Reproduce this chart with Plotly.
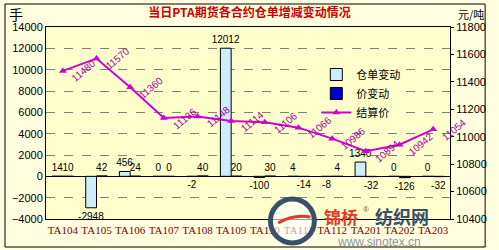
import plotly.graph_objects as go

contracts = ["TA104", "TA105", "TA106", "TA107", "TA108", "TA109",
             "TA110", "TA111", "TA112", "TA201", "TA202", "TA203"]
receipt_change = [14, -2948, 456, 0, -2, 12012, -100, 4, -8, 1340, 0, 0]
price_change = [10, 42, 24, 0, 40, 20, 30, -14, 4, -32, -126, -32]
settle_price = [11480, 11570, 11360, 11136, 11148, 11114, 11106, 11066,
                10986, 10894, 10942, 11054]

W, H = 499, 250
ML, MR, MT, MB = 45, 40, 27, 31
PW, PH = W - ML - MR, H - MT - MB


def px(x):
    return (x - ML) / PW


def py(y):
    return 1 - (y - MT) / PH


CJK = "Noto Sans CJK SC"
NUM = "Liberation Sans"
MAG = "#D000D0"

fig = go.Figure()
fig.add_trace(go.Bar(
    x=contracts, y=receipt_change, name="仓单变动",
    marker=dict(color="#CCEEFF", line=dict(color="black", width=1)),
    text=[str(v) for v in receipt_change], textposition="outside",
    constraintext="none",
    textfont=dict(family=NUM, size=10, color="black"), cliponaxis=False,
))
fig.add_trace(go.Bar(
    x=contracts, y=price_change, name="价变动",
    marker=dict(color="#0000CC", line=dict(color="black", width=1)),
    text=[str(v) for v in price_change], textposition="outside",
    constraintext="none",
    textfont=dict(family=NUM, size=10, color="black"), cliponaxis=False,
))
fig.add_trace(go.Scatter(
    x=contracts, y=settle_price, name="结算价", yaxis="y2",
    mode="lines+markers",
    line=dict(color=MAG, width=2),
    marker=dict(symbol="triangle-up", size=7, color=MAG),
))

for c, v in zip(contracts, settle_price):
    fig.add_annotation(x=c, y=v, yref="y2", text=str(v), showarrow=False,
                       textangle=-40, xshift=21, yshift=0,
                       font=dict(family=NUM, size=10, color="#A000A0"))

fig.update_layout(
    width=W, height=H,
    margin=dict(l=ML, r=MR, t=MT, b=MB),
    paper_bgcolor="#FFFFE0", plot_bgcolor="#FFFFCC",
    barmode="group", bargap=0.36, bargroupgap=0,
    title=dict(text="<b>当日PTA期货各合约仓单增减变动情况</b>", x=0.5, xanchor="center",
               y=1 - 13 / H, yanchor="middle",
               font=dict(family=CJK, size=12, color="#CC0000")),
    showlegend=True,
    legend=dict(x=px(322), y=py(60), xanchor="left", yanchor="top",
                bgcolor="#FFFFCC", borderwidth=0, tracegroupgap=0,
                font=dict(family=CJK, size=11, color="black")),
    xaxis=dict(type="category", categoryorder="array", categoryarray=contracts,
               range=[-0.5, 11.5],
               showline=True, mirror=True, linecolor="black", linewidth=1,
               ticks="", ticklabelstandoff=1, showgrid=False,
               tickfont=dict(family="Liberation Serif", size=11, color="#800000")),
    xaxis2=dict(overlaying="x", anchor="free", position=4000 / 18000,
                range=[-0.5, 11.5], tickvals=[i + 0.5 for i in range(11)],
                ticks="outside", ticklen=4, tickcolor="black",
                showticklabels=False, showgrid=False, showline=False, zeroline=False),
    yaxis=dict(range=[-4000, 14000], dtick=2000, tickformat="d", showline=True, mirror=True,
               linecolor="black", linewidth=1, ticks="",
               showgrid=True, gridcolor="#808080", griddash="dash", gridwidth=1,
               zeroline=True, zerolinecolor="black", zerolinewidth=1,
               tickfont=dict(family=NUM, size=11, color="black")),
    yaxis2=dict(range=[10400, 11800], dtick=200, tickformat="d", overlaying="y", side="right",
                showline=True, linecolor="black", linewidth=1,
                ticks="outside", ticklen=3, tickcolor="black",
                showgrid=False, zeroline=False,
                tickfont=dict(family=NUM, size=11, color="black")),
)

# axis unit labels
fig.add_annotation(xref="paper", yref="paper", x=px(5), y=py(14), text="手",
                   showarrow=False, xanchor="left", yanchor="middle",
                   font=dict(family=CJK, size=14, color="black"))
fig.add_annotation(xref="paper", yref="paper", x=px(496), y=py(14), text="元/吨",
                   showarrow=False, xanchor="right", yanchor="middle",
                   font=dict(family=CJK, size=11, color="black"))

# outer chart border
fig.add_shape(type="rect", xref="paper", yref="paper",
              x0=px(3), x1=px(495), y0=py(247), y1=py(4),
              line=dict(color="black", width=1), layer="above")

# watermark
fig.add_shape(type="circle", xref="paper", yref="paper",
              x0=px(275), x1=px(320), y0=py(243), y1=py(199),
              line=dict(color="#3A4F6C", width=5), fillcolor="rgba(255,255,255,0.6)")
fig.add_shape(type="path", xref="paper", yref="paper",
              path=f"M {px(283)} {py(223)} Q {px(298)} {py(214)} {px(316)} {py(217)}",
              line=dict(color="#E23A25", width=3))
fig.add_annotation(xref="paper", yref="paper", x=px(328), y=py(216),
                   text="<b>锦桥</b>", showarrow=False, xanchor="left", yanchor="middle",
                   font=dict(family=CJK, size=17, color="#E23A25"))
fig.add_annotation(xref="paper", yref="paper", x=px(368), y=py(209),
                   text="®", showarrow=False, xanchor="left", yanchor="middle",
                   font=dict(family=NUM, size=8, color="#555555"))
fig.add_annotation(xref="paper", yref="paper", x=px(380), y=py(216),
                   text="<b>纺织网</b>", showarrow=False, xanchor="left", yanchor="middle",
                   font=dict(family=CJK, size=18, color="#3A4F6C"))
fig.add_annotation(xref="paper", yref="paper", x=px(386), y=py(242),
                   text="www.sinotex.cn", showarrow=False, xanchor="center", yanchor="middle",
                   font=dict(family=NUM, size=12, color="#8A96A8"))

fig.write_html("out.html")
